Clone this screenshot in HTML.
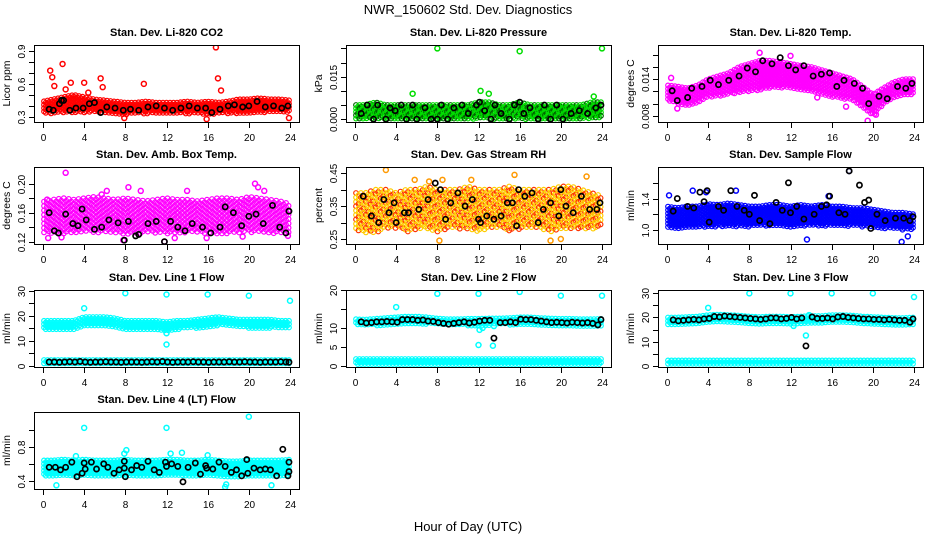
<!DOCTYPE html>
<html><head><meta charset="utf-8"><title>NWR_150602 Std. Dev. Diagnostics</title>
<style>
html,body{margin:0;padding:0;background:#fff;}
svg{display:block;font-family:"Liberation Sans",sans-serif;}
</style></head>
<body>
<svg id="chart" width="936" height="540" viewBox="0 0 936 540">
<text x="468" y="14" text-anchor="middle" font-size="13">NWR_150602  Std. Dev. Diagnostics</text>
<text x="468" y="531" text-anchor="middle" font-size="13">Hour of Day (UTC)</text>
</svg>
<script>
// ---- data (hour bands 0..24, outliers and hourly-average points) ----
const hours = [0,1,2,3,4,5,6,7,8,9,10,11,12,13,14,15,16,17,18,19,20,21,22,23,24];
const xTicks = [0,4,8,12,16,20,24];

const co2Lo = [0.33,0.33,0.34,0.34,0.34,0.34,0.33,0.33,0.32,0.33,0.33,0.33,0.33,0.33,0.33,0.33,0.32,0.33,0.33,0.33,0.33,0.34,0.34,0.34,0.33];
const co2Hi = [0.44,0.46,0.48,0.50,0.48,0.46,0.45,0.44,0.43,0.43,0.44,0.43,0.43,0.43,0.44,0.43,0.44,0.43,0.44,0.46,0.46,0.47,0.46,0.46,0.45];
const co2Out = [[0.7,0.72],[0.9,0.66],[1.1,0.58],[1.9,0.78],[2.7,0.61],[4.0,0.61],[5.6,0.65],[5.8,0.57],[9.8,0.6],[16.8,0.93],[17.0,0.65],[17.3,0.54],[7.9,0.29],[15.9,0.28],[23.9,0.29],[4.4,0.52],[2.2,0.55]];
const co2Avg = [[0.6,0.37],[1.0,0.36],[1.6,0.42],[1.8,0.45],[2.0,0.45],[2.6,0.36],[3.2,0.38],[3.9,0.38],[4.5,0.42],[5.0,0.43],[5.6,0.34],[6.2,0.39],[7.0,0.38],[7.8,0.36],[8.5,0.37],[9.3,0.36],[10.2,0.39],[11.0,0.40],[11.8,0.38],[12.6,0.36],[13.4,0.38],[14.2,0.40],[15.0,0.38],[15.8,0.38],[16.4,0.34],[17.2,0.37],[18.0,0.40],[18.6,0.41],[19.4,0.39],[20.0,0.40],[20.8,0.44],[21.6,0.39],[22.4,0.40],[23.2,0.38],[23.8,0.40]];

const presLo = [0,0,0,0,0,0,0,0,0,0,0,0,0,0,0,0,0,0,0,0,0,0,0,0,0];
const presHi = [0.005,0.005,0.006,0.005,0.005,0.005,0.005,0.005,0.005,0.005,0.005,0.005,0.006,0.006,0.005,0.005,0.006,0.005,0.005,0.005,0.005,0.005,0.005,0.006,0.006];
const presOut = [[8,0.025],[16,0.024],[24,0.025],[5.6,0.009],[12.2,0.010],[13,0.009],[23.2,0.008]];
const presAvg = [[0.6,0.002],[1.2,0.005],[1.8,0.000],[2.2,0.005],[3.0,0.000],[3.4,0.004],[3.9,0.003],[4.5,0.005],[5.0,0.000],[5.6,0.005],[6.0,0.000],[6.8,0.004],[7.4,0.000],[8.0,0.000],[8.4,0.005],[9.0,0.000],[9.6,0.004],[10.4,0.005],[11.0,0.002],[11.8,0.005],[12.1,0.006],[12.6,0.003],[13.2,0.000],[13.6,0.005],[14.2,0.002],[15.0,0.000],[15.5,0.005],[16.0,0.006],[16.4,0.002],[17.0,0.004],[17.8,0.000],[18.4,0.005],[19.0,0.000],[19.6,0.005],[20.2,0.000],[21.0,0.002],[21.8,0.003],[22.6,0.002],[23.4,0.004],[23.9,0.005]];

const tempLo = [0.0105,0.010,0.0095,0.010,0.011,0.0112,0.0115,0.0118,0.012,0.0122,0.0125,0.0125,0.0125,0.0122,0.012,0.0115,0.011,0.0108,0.0105,0.0092,0.008,0.0098,0.011,0.0112,0.0115];
const tempHi = [0.0130,0.0128,0.0125,0.013,0.014,0.0145,0.015,0.016,0.0165,0.017,0.017,0.0168,0.0165,0.0162,0.016,0.0155,0.015,0.0145,0.014,0.0128,0.0115,0.0125,0.0135,0.014,0.0140];
const tempOut = [[0.4,0.0142],[9,0.0183],[19.5,0.0072],[20.3,0.0082],[1.0,0.0092],[17.4,0.0095],[12.0,0.0178],[14.6,0.0110]];
const tempAvg = [[0.5,0.0121],[1.0,0.0105],[2.0,0.011],[2.4,0.0125],[3.4,0.0128],[4.2,0.0138],[5.0,0.0131],[6.0,0.0138],[7.0,0.0145],[7.8,0.0158],[8.6,0.0152],[9.3,0.0170],[10.2,0.0165],[11.0,0.0175],[11.8,0.0162],[12.5,0.0155],[13.3,0.0162],[14.2,0.0145],[15.0,0.0148],[15.8,0.0150],[16.5,0.0128],[17.2,0.0138],[18.2,0.0133],[19.0,0.0125],[19.6,0.0100],[20.6,0.0112],[21.4,0.0108],[22.4,0.0128],[23.2,0.0125],[23.8,0.0133]];

const ambLo = [0.132,0.130,0.130,0.131,0.132,0.133,0.132,0.131,0.130,0.131,0.132,0.132,0.130,0.131,0.132,0.132,0.131,0.130,0.131,0.132,0.133,0.132,0.131,0.131,0.132];
const ambHi = [0.175,0.178,0.180,0.178,0.180,0.182,0.180,0.178,0.180,0.178,0.176,0.178,0.180,0.178,0.178,0.176,0.178,0.180,0.180,0.178,0.182,0.180,0.178,0.176,0.172];
const ambOut = [[2.2,0.215],[0.4,0.178],[5.7,0.185],[6.2,0.19],[8.3,0.195],[9.5,0.19],[14,0.19],[20.6,0.2],[20.9,0.195],[21.5,0.19],[0.5,0.125],[1.8,0.126],[7.8,0.122],[11.8,0.12],[15.9,0.125],[23.8,0.128],[12.8,0.125],[19.4,0.127]];
const ambAvg = [[0.6,0.16],[1.1,0.135],[1.5,0.132],[2.2,0.158],[2.9,0.145],[3.4,0.142],[3.8,0.165],[4.2,0.15],[5.0,0.137],[5.7,0.14],[6.4,0.15],[7.3,0.146],[7.9,0.122],[8.3,0.148],[9.0,0.128],[9.3,0.13],[10.2,0.145],[11.0,0.148],[11.8,0.12],[12.4,0.148],[13.1,0.14],[13.8,0.135],[14.5,0.145],[15.5,0.14],[16.3,0.132],[17.2,0.14],[17.7,0.168],[18.5,0.16],[19.3,0.142],[20.0,0.155],[20.7,0.158],[21.4,0.145],[22.3,0.17],[23.0,0.14],[23.6,0.132],[23.9,0.162]];

const rhLo = [0.27,0.27,0.27,0.28,0.28,0.27,0.28,0.28,0.27,0.28,0.28,0.28,0.27,0.28,0.28,0.27,0.28,0.28,0.28,0.27,0.28,0.28,0.28,0.28,0.29];
const rhHi = [0.39,0.39,0.40,0.40,0.39,0.40,0.40,0.41,0.40,0.40,0.40,0.41,0.40,0.40,0.40,0.41,0.40,0.40,0.40,0.40,0.41,0.41,0.40,0.39,0.38];
const rhOut = [[3,0.46],[15.5,0.445],[22.5,0.44],[8.2,0.245],[19,0.245],[20,0.25],[7.2,0.425],[8.5,0.43],[11.3,0.43],[5.8,0.43]];
const rhAvg = [[0.8,0.38],[1.6,0.32],[2.3,0.30],[2.8,0.37],[3.3,0.33],[3.8,0.36],[4.0,0.30],[4.8,0.33],[5.2,0.33],[6.2,0.34],[7.1,0.37],[7.8,0.42],[8.3,0.40],[8.8,0.31],[9.3,0.36],[10.0,0.39],[10.7,0.35],[11.4,0.37],[12.0,0.31],[12.2,0.30],[12.8,0.32],[13.5,0.31],[14.2,0.32],[14.8,0.36],[15.3,0.36],[15.7,0.29],[15.9,0.40],[16.5,0.38],[17.2,0.39],[17.8,0.30],[18.3,0.34],[19.0,0.36],[19.8,0.32],[20.0,0.40],[20.5,0.35],[21.2,0.33],[22.0,0.38],[22.8,0.34],[23.5,0.34],[23.8,0.36]];

const flowLo = [1.02,1.02,1.03,1.04,1.03,1.04,1.05,1.04,1.04,1.05,1.05,1.04,1.04,1.05,1.05,1.05,1.05,1.05,1.05,1.04,1.03,1.02,1.01,1.0,1.0];
const flowHi = [1.30,1.28,1.30,1.30,1.33,1.32,1.34,1.32,1.30,1.30,1.32,1.32,1.30,1.32,1.30,1.32,1.30,1.30,1.28,1.28,1.26,1.24,1.22,1.22,1.20];
const flowOut = [[0.2,1.44],[3.8,1.48],[13.6,0.88],[22.8,0.85],[23.4,0.92],[17.7,1.75],[2.5,1.5],[15.7,1.43],[6.7,1.5]];
const flowAvg = [[0.6,1.24],[1.0,1.4],[2.0,1.3],[2.6,1.28],[3.2,1.48],[3.6,1.36],[3.9,1.5],[4.1,1.1],[5.0,1.3],[5.5,1.25],[6.2,1.5],[6.8,1.3],[7.5,1.25],[8.0,1.2],[8.5,1.44],[9.0,1.12],[10.0,1.08],[10.6,1.35],[11.2,1.25],[11.8,1.6],[12.0,1.22],[12.6,1.3],[13.3,1.14],[14.3,1.2],[15.0,1.3],[15.5,1.32],[15.8,1.43],[16.7,1.22],[17.3,1.2],[17.7,1.75],[18.7,1.57],[19.2,1.35],[19.6,1.38],[19.8,1.02],[20.4,1.2],[21.2,1.12],[22.2,1.15],[23.0,1.15],[23.6,1.12],[23.9,1.17]];

const l1Lo = [14,14,14,14.5,15.5,15.5,15.5,15,14.5,14.5,14.5,14.5,14,14.5,15,15,15.5,16,16,15.5,15,15,15,15,15];
const l1Hi = [18,18,18,18,19.5,19.5,19.5,19,18,18,18,18,17.5,18,18,18.5,19,19.5,19,18.5,18.5,18.5,18.5,18,18];
const l1BaseLo = [0.7,0.7,0.7,0.7,0.7,0.7,0.7,0.7,0.7,0.7,0.7,0.7,0.7,0.7,0.7,0.7,0.7,0.7,0.7,0.7,0.7,0.7,0.7,0.7,0.7];
const l1BaseHi = [2.3,2.3,2.3,2.3,2.3,2.3,2.3,2.3,2.3,2.3,2.3,2.3,2.3,2.3,2.3,2.3,2.3,2.3,2.3,2.3,2.3,2.3,2.3,2.3,2.3];
const l1Out = [[4,23],[8,29],[12,28.5],[16,28.5],[20,28],[24,26],[12,8.5],[12,13]];
const l1Avg = [[0.6,1.5],[1.1,1.5],[1.6,1.4],[2.1,1.5],[2.6,1.6],[3.1,1.5],[3.6,1.7],[4.1,1.5],[4.6,1.4],[5.1,1.5],[5.6,1.5],[6.1,1.6],[6.6,1.5],[7.1,1.5],[7.6,1.4],[8.1,1.5],[8.6,1.5],[9.1,1.5],[9.6,1.4],[10.1,1.5],[10.6,1.6],[11.1,1.5],[11.6,1.7],[12.1,1.5],[12.6,1.4],[13.1,1.5],[13.6,1.5],[14.1,1.5],[14.6,1.6],[15.1,1.5],[15.6,1.5],[16.1,1.4],[16.6,1.5],[17.1,1.5],[17.6,1.5],[18.1,1.6],[18.6,1.5],[19.1,1.5],[19.6,1.6],[20.1,1.5],[20.6,1.5],[21.1,1.4],[21.6,1.5],[22.1,1.5],[22.6,1.5],[23.1,1.6],[23.6,1.5],[23.9,1.4]];

const l2Lo = [10.6,10.5,10.6,10.8,11.0,11.2,11.2,11.0,10.8,10.6,10.6,10.6,10.6,10.7,10.8,10.8,11.0,11.0,10.8,10.7,10.6,10.6,10.5,10.5,10.6];
const l2Hi = [12.3,12.2,12.4,12.6,12.8,13.0,13.0,12.8,12.5,12.3,12.3,12.4,12.4,12.5,12.5,12.6,12.8,12.8,12.6,12.5,12.4,12.4,12.3,12.3,12.4];
const l2BaseLo = [0.3,0.3,0.3,0.3,0.3,0.3,0.3,0.3,0.3,0.3,0.3,0.3,0.3,0.3,0.3,0.3,0.3,0.3,0.3,0.3,0.3,0.3,0.3,0.3,0.3];
const l2BaseHi = [1.8,1.8,1.8,1.8,1.8,1.8,1.8,1.8,1.8,1.8,1.8,1.8,1.8,1.8,1.8,1.8,1.8,1.8,1.8,1.8,1.8,1.8,1.8,1.8,1.8];
const l2Out = [[4,15.5],[8,19],[12,19],[16,19.5],[20,18.5],[24,18.5],[12,5.5],[13.4,5.3],[12.1,9.5],[12.4,10],[13.5,10.5]];
const l2Avg = [[0.6,11.6],[1.1,11.3],[1.6,11.4],[2.1,11.6],[2.6,11.6],[3.1,11.7],[3.6,11.6],[4.1,11.5],[4.6,12.2],[5.1,12.2],[5.6,12.2],[6.1,12.0],[6.6,12.1],[7.1,11.8],[7.6,11.7],[8.1,11.4],[8.6,11.2],[9.1,11.0],[9.6,11.2],[10.1,11.4],[10.6,11.6],[11.1,11.3],[11.6,11.5],[12.1,11.8],[12.6,12.0],[13.1,12.0],[13.5,7.3],[14.1,11.4],[14.6,11.4],[15.1,11.6],[15.6,11.4],[16.1,12.3],[16.6,12.2],[17.1,12.2],[17.6,12.0],[18.1,11.8],[18.6,11.6],[19.1,11.4],[19.6,11.5],[20.1,11.4],[20.6,11.3],[21.1,11.5],[21.6,11.4],[22.1,11.3],[22.6,11.4],[23.1,11.2],[23.6,10.8],[23.9,12.2]];

const l3Lo = [17.0,16.8,17.0,17.2,17.5,17.8,17.8,17.6,17.4,17.2,17.2,17.2,17.0,17.2,17.4,17.4,17.6,17.8,17.6,17.4,17.2,17.0,16.8,16.8,16.8];
const l3Hi = [20.0,20.0,20.2,20.4,21.0,21.2,21.0,20.8,20.4,20.2,20.4,20.4,20.2,20.4,20.6,20.6,21.0,21.0,20.8,20.4,20.2,20.0,19.8,19.8,20.0];
const l3BaseLo = [0.5,0.5,0.5,0.5,0.5,0.5,0.5,0.5,0.5,0.5,0.5,0.5,0.5,0.5,0.5,0.5,0.5,0.5,0.5,0.5,0.5,0.5,0.5,0.5,0.5];
const l3BaseHi = [2.2,2.2,2.2,2.2,2.2,2.2,2.2,2.2,2.2,2.2,2.2,2.2,2.2,2.2,2.2,2.2,2.2,2.2,2.2,2.2,2.2,2.2,2.2,2.2,2.2];
const l3Out = [[4,24],[8,30],[12,30],[16,30],[20,30],[24,28.5],[13.5,12.5],[12.3,16.5],[13.8,21]];
const l3Avg = [[0.6,19.0],[1.1,18.6],[1.6,18.8],[2.1,19.0],[2.6,19.2],[3.1,19.0],[3.6,19.4],[4.1,19.6],[4.6,20.4],[5.1,20.2],[5.6,20.6],[6.1,20.4],[6.6,20.2],[7.1,20.0],[7.6,19.8],[8.1,19.6],[8.6,19.4],[9.1,19.2],[9.6,19.4],[10.1,19.8],[10.6,19.8],[11.1,19.4],[11.6,19.6],[12.1,20.0],[12.6,19.4],[13.1,19.8],[13.5,8.2],[14.1,20.2],[14.6,19.6],[15.1,19.6],[15.6,19.8],[16.1,19.4],[16.6,20.2],[17.1,20.4],[17.6,20.0],[18.1,19.8],[18.6,19.6],[19.1,19.4],[19.6,19.4],[20.1,19.2],[20.6,19.2],[21.1,19.0],[21.6,19.2],[22.1,19.0],[22.6,18.8],[23.1,18.8],[23.6,18.0],[23.9,19.4]];

const l4Lo = [0.46,0.45,0.46,0.46,0.45,0.46,0.46,0.46,0.45,0.46,0.46,0.46,0.46,0.46,0.46,0.46,0.46,0.45,0.45,0.45,0.46,0.46,0.46,0.46,0.46];
const l4Hi = [0.64,0.64,0.65,0.64,0.65,0.64,0.64,0.64,0.65,0.64,0.64,0.64,0.65,0.65,0.64,0.64,0.65,0.64,0.63,0.63,0.64,0.64,0.64,0.64,0.65];
const l4Out = [[4,1.02],[12,1.02],[20,1.15],[1.3,0.35],[17.7,0.33],[17.8,0.36],[7.9,0.72],[12.4,0.72],[13.5,0.73],[16.0,0.7],[22.2,0.35],[8.1,0.76],[3.2,0.69]];
const l4Avg = [[0.6,0.56],[1.2,0.56],[1.7,0.53],[2.2,0.56],[2.8,0.62],[3.3,0.45],[3.8,0.49],[4.0,0.61],[4.1,0.54],[4.7,0.62],[5.2,0.54],[5.9,0.60],[6.3,0.56],[6.9,0.49],[7.4,0.53],[7.9,0.63],[7.9,0.55],[8.0,0.45],[8.6,0.53],[9.1,0.58],[9.6,0.56],[10.2,0.63],[10.8,0.53],[11.3,0.50],[11.9,0.62],[12.0,0.57],[12.5,0.60],[13.1,0.57],[13.6,0.39],[14.1,0.56],[14.8,0.61],[15.3,0.48],[15.8,0.58],[15.9,0.55],[16.5,0.54],[17.1,0.62],[17.7,0.57],[18.3,0.50],[18.8,0.53],[19.3,0.46],[19.8,0.65],[19.9,0.49],[20.5,0.55],[21.1,0.53],[21.6,0.54],[22.1,0.53],[22.7,0.46],[23.3,0.77],[23.8,0.46],[23.9,0.62],[23.9,0.51]];

// ---- tick labels ----
const co2Ticks = [0.3,0.4,0.5,0.6,0.7,0.8,0.9];      const co2Labels = ["0.3","","","0.6","","","0.9"];
const presTicks = [0,0.005,0.01,0.015,0.02,0.025];   const presLabels = ["0.000","","","0.015","",""];
const tempTicks = [0.008,0.01,0.012,0.014,0.016,0.018]; const tempLabels = ["0.008","","","0.014","",""];
const ambTicks = [0.12,0.14,0.16,0.18,0.20];          const ambLabels = ["0.12","","0.16","","0.20"];
const rhTicks = [0.25,0.30,0.35,0.40,0.45];            const rhLabels = ["0.25","","0.35","","0.45"];
const flowTicks = [1.0,1.2,1.4,1.6];                   const flowLabels = ["1.0","","1.4",""];
const l1Ticks = [0,5,10,15,20,25,30];                  const l1Labels = ["0","","10","","20","","30"];
const l2Ticks = [0,5,10,15,20];                        const l2Labels = ["0","5","10","","20"];
const l3Ticks = [0,5,10,15,20,25,30];                  const l3Labels = ["0","","10","","20","","30"];
const l4Ticks = [0.4,0.6,0.8,1.0];                     const l4Labels = ["0.4","","0.8",""];

const panels = [
 {name:"co2",title:"Stan. Dev. Li-820 CO2",ylab:"Licor ppm",col:0,row:0,ylim:[0.254,0.952],color:"#ff0000",bands:[[co2Lo,co2Hi]],out:co2Out,avg:co2Avg,ticks:co2Ticks,labels:co2Labels},
 {name:"pressure",title:"Stan. Dev. Li-820 Pressure",ylab:"kPa",col:1,row:0,ylim:[-0.001,0.0262],color:"#00dd00",color2:"#006600",bands:[[presLo,presHi]],out:presOut,avg:presAvg,ticks:presTicks,labels:presLabels},
 {name:"li820-temp",title:"Stan. Dev. Li-820 Temp.",ylab:"degrees C",col:2,row:0,ylim:[0.0070,0.01957],color:"#ff00ff",bands:[[tempLo,tempHi]],out:tempOut,avg:tempAvg,ticks:tempTicks,labels:tempLabels},
 {name:"amb-box-temp",title:"Stan. Dev. Amb. Box Temp.",ylab:"degrees C",col:0,row:1,ylim:[0.1168,0.223],color:"#ff00ff",bands:[[ambLo,ambHi]],out:ambOut,avg:ambAvg,ticks:ambTicks,labels:ambLabels,sparse:true},
 {name:"gas-stream-rh",title:"Stan. Dev. Gas Stream RH",ylab:"percent",col:1,row:1,ylim:[0.2348,0.469],color:"#ffcc00",color2:"#ff3300",bands:[[rhLo,rhHi]],out:rhOut,avg:rhAvg,ticks:rhTicks,labels:rhLabels,sparse:true},
 {name:"sample-flow",title:"Stan. Dev. Sample Flow",ylab:"ml/min",col:2,row:1,ylim:[0.823,1.80],color:"#0000ff",bands:[[flowLo,flowHi]],out:flowOut,avg:flowAvg,ticks:flowTicks,labels:flowLabels},
 {name:"line1-flow",title:"Stan. Dev. Line 1 Flow",ylab:"ml/min",col:0,row:2,ylim:[-0.5,30.3],color:"#00ffff",bands:[[l1Lo,l1Hi],[l1BaseLo,l1BaseHi]],out:l1Out,avg:l1Avg,ticks:l1Ticks,labels:l1Labels},
 {name:"line2-flow",title:"Stan. Dev. Line 2 Flow",ylab:"ml/min",col:1,row:2,ylim:[-0.3,20.0],color:"#00ffff",bands:[[l2Lo,l2Hi],[l2BaseLo,l2BaseHi]],out:l2Out,avg:l2Avg,ticks:l2Ticks,labels:l2Labels},
 {name:"line3-flow",title:"Stan. Dev. Line 3 Flow",ylab:"ml/min",col:2,row:2,ylim:[-0.55,31.4],color:"#00ffff",bands:[[l3Lo,l3Hi],[l3BaseLo,l3BaseHi]],out:l3Out,avg:l3Avg,ticks:l3Ticks,labels:l3Labels},
 {name:"line4-flow",title:"Stan. Dev. Line 4 (LT) Flow",ylab:"ml/min",col:0,row:3,ylim:[0.3067,1.205],color:"#00ffff",bands:[[l4Lo,l4Hi]],out:l4Out,avg:l4Avg,ticks:l4Ticks,labels:l4Labels}
];

const NS = "http://www.w3.org/2000/svg";
const svg = document.getElementById("chart");
const rowTops = [45,167,290,412];
const BOXW = 265, BOXH = 77;

function mk(tag, attrs, parent){
  const e = document.createElementNS(NS, tag);
  for (const k in attrs) e.setAttribute(k, attrs[k]);
  parent.appendChild(e);
  return e;
}
function interp(arr, h){
  const i = Math.min(Math.floor(h), 23), t = h - i;
  return arr[i] + (arr[i+1] - arr[i]) * t;
}

panels.forEach(p => {
  const L = 34 + 312 * p.col, T = rowTops[p.row], B = T + BOXH;
  const xs = h => L + 9 + h * (247 / 24);
  const ys = v => B - (v - p.ylim[0]) / (p.ylim[1] - p.ylim[0]) * BOXH;
  const g = mk("g", {}, svg);
  
  

  const title = mk("text", {x: L + BOXW/2, y: T - 9, "text-anchor":"middle", "font-size":"11", "font-weight":"bold"}, g);
  title.textContent = p.title;
  
  

  const ylab = mk("text", {x: 0, y: 0, "text-anchor":"middle", "font-size":"10.5", transform:`translate(${L-24},${T+BOXH/2}) rotate(-90)`}, g);
  ylab.textContent = p.ylab;
  
  

  const cid = "clip-" + p.name;
  const cp = mk("clipPath", {id: cid}, g);
  mk("rect", {x: L, y: T, width: BOXW, height: BOXH}, cp);
  const pts = mk("g", {"clip-path": `url(#${cid})`, fill:"none", "stroke-width":"1.2"}, g);
  
  

  const dx = p.sparse ? 0.24 : 0.17, dy = p.sparse ? 4.4 : 3.4;
  p.bands.forEach(band => {
    let col = 0;
    for (let h = 0.1; h <= 23.95; h += dx, col++) {
      const yTop = ys(interp(band[1], h)), yBot = ys(interp(band[0], h));
      let k = 0;
      for (let y = yTop + (col % 2) * dy / 2; y <= yBot; y += dy, k++) {
        const c = mk("circle", {cx: xs(h).toFixed(1), cy: y.toFixed(1), r: 2.3, stroke: (p.color2 && (col + k) % 3 === 0) ? p.color2 : p.color}, pts);
        
        
      }
    }
  });
  p.out.forEach(d => {
    const c = mk("circle", {cx: xs(d[0]), cy: ys(d[1]), r: 2.5, stroke: p.color2 && p.name === "gas-stream-rh" ? "#ff9900" : p.color, "stroke-width":"1.5"}, pts);
    
    
  });
  p.avg.forEach(d => {
    const c = mk("circle", {cx: xs(d[0]), cy: ys(d[1]), r: 2.6, stroke: "#000", "stroke-width":"1.7"}, pts);
    
    
  });

  const box = mk("rect", {x: L + 0.5, y: T + 0.5, width: BOXW, height: BOXH, fill:"none", stroke:"#000", "stroke-width":"1"}, g);
  
  

  const xa = mk("g", {stroke:"#000", "stroke-width":"1"}, g);
  
  
  xTicks.forEach(t => {
    const x = Math.round(xs(t)) + 0.5;
    mk("line", {x1: x, y1: B + 1, x2: x, y2: B + 6}, xa);
    const tl = mk("text", {x: x, y: B + 19, "text-anchor":"middle", "font-size":"10", stroke:"none", fill:"#000"}, xa);
    tl.textContent = String(t);
    
    
  });
  const ya = mk("g", {stroke:"#000", "stroke-width":"1"}, g);
  
  
  p.ticks.forEach((t, i) => {
    const y = Math.round(ys(t)) + 0.5;
    mk("line", {x1: L - 5, y1: y, x2: L, y2: y}, ya);
    if (p.labels[i]) {
      const tl = mk("text", {x: 0, y: 0, "text-anchor":"middle", "font-size":"10", stroke:"none", fill:"#000", transform:`translate(${L-9},${y}) rotate(-90)`}, ya);
      tl.textContent = p.labels[i];
      
      
    }
  });
});
</script>
</body></html>
